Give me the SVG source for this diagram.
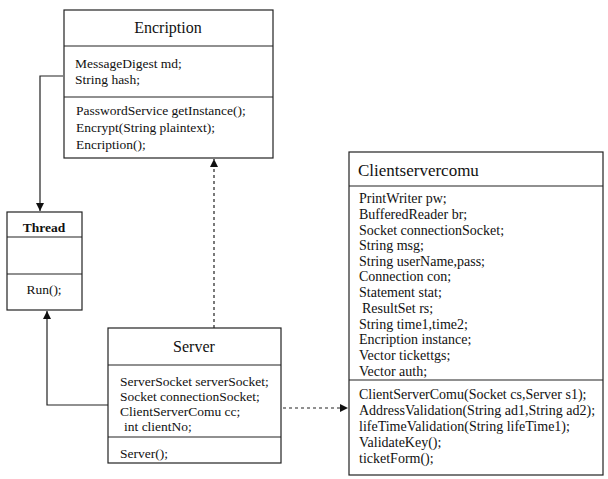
<svg xmlns="http://www.w3.org/2000/svg" width="608" height="479" viewBox="0 0 608 479">
<style>
.box{fill:#fff;stroke:#222;stroke-width:1.2}
.div{stroke:#222;stroke-width:1.2}
.t{font-family:"Liberation Serif","Times New Roman",serif;fill:#111;font-size:13.5px}
.ct{font-family:"Liberation Serif","Times New Roman",serif;fill:#111;font-size:14px}
.title{font-family:"Liberation Serif","Times New Roman",serif;fill:#111;font-size:16px;text-anchor:middle}
.conn{fill:none;stroke:#222;stroke-width:1.2}
.dash{fill:none;stroke:#222;stroke-width:1.2;stroke-dasharray:3 3}
</style>
<defs>
<marker id="arr" viewBox="0 0 10 10" refX="10" refY="5" markerWidth="8" markerHeight="8" markerUnits="userSpaceOnUse" orient="auto">
<path d="M0,0 L10,5 L0,10 z" fill="#111"/>
</marker>
</defs>
<rect width="608" height="479" fill="#fff"/>
<g id="connectors">
<polyline class="conn" points="63,76 40,76 40,211" marker-end="url(#arr)"/>
<polyline class="conn" points="108,405 47,405 47,311" marker-end="url(#arr)"/>
<line class="dash" x1="214" y1="328" x2="214" y2="159" marker-end="url(#arr)"/>
<line class="dash" x1="283" y1="408" x2="348" y2="408" marker-end="url(#arr)"/>
</g>
<g id="Encription">
<rect class="box" x="64" y="10" width="209" height="148"/>
<line class="div" x1="64" y1="46" x2="273" y2="46"/>
<line class="div" x1="64" y1="97" x2="273" y2="97"/>
<text class="title" x="168" y="33">Encription</text>
<text class="t" x="75" y="68">MessageDigest md;</text>
<text class="t" x="75" y="84">String hash;</text>
<text class="t" x="76" y="115">PasswordService getInstance();</text>
<text class="t" x="76" y="132">Encrypt(String plaintext);</text>
<text class="t" x="76" y="149">Encription();</text>
</g>
<g id="Thread">
<rect class="box" x="7" y="212" width="75" height="98"/>
<line class="div" x1="7" y1="237" x2="82" y2="237"/>
<line class="div" x1="7" y1="274" x2="82" y2="274"/>
<text class="title" x="44" y="232" style="font-size:13.5px;font-weight:bold">Thread</text>
<text class="title" x="44" y="294" style="font-size:13.5px">Run();</text>
</g>
<g id="Server">
<rect class="box" x="108" y="328" width="173" height="135"/>
<line class="div" x1="108" y1="365" x2="281" y2="365"/>
<line class="div" x1="108" y1="437" x2="281" y2="437"/>
<text class="title" x="194" y="352">Server</text>
<text class="t" x="120" y="386">ServerSocket serverSocket;</text>
<text class="t" x="120" y="401">Socket connectionSocket;</text>
<text class="t" x="120" y="416">ClientServerComu cc;</text>
<text class="t" x="124" y="431">int clientNo;</text>
<text class="t" x="120" y="458">Server();</text>
</g>
<g id="Clientservercomu">
<rect class="box" x="349" y="152" width="254" height="323"/>
<line class="div" x1="349" y1="186" x2="603" y2="186"/>
<line class="div" x1="349" y1="380" x2="603" y2="380"/>
<text x="358" y="176" style="font-family:'Liberation Serif','Times New Roman',serif;font-size:17px;fill:#111">Clientservercomu</text>
<text class="ct" x="359" y="203">PrintWriter pw;</text>
<text class="ct" x="359" y="219">BufferedReader br;</text>
<text class="ct" x="359" y="235">Socket connectionSocket;</text>
<text class="ct" x="359" y="250">String msg;</text>
<text class="ct" x="359" y="266">String userName,pass;</text>
<text class="ct" x="359" y="281">Connection con;</text>
<text class="ct" x="359" y="297">Statement stat;</text>
<text class="ct" x="362" y="313">ResultSet rs;</text>
<text class="ct" x="359" y="329">String time1,time2;</text>
<text class="ct" x="359" y="344">Encription instance;</text>
<text class="ct" x="359" y="360">Vector tickettgs;</text>
<text class="ct" x="359" y="376">Vector auth;</text>
<text class="ct" x="359" y="399">ClientServerComu(Socket cs,Server s1);</text>
<text class="ct" x="359" y="415">AddressValidation(String ad1,String ad2);</text>
<text class="ct" x="359" y="431">lifeTimeValidation(String lifeTime1);</text>
<text class="ct" x="359" y="447">ValidateKey();</text>
<text class="ct" x="359" y="463">ticketForm();</text>
</g>
</svg>
